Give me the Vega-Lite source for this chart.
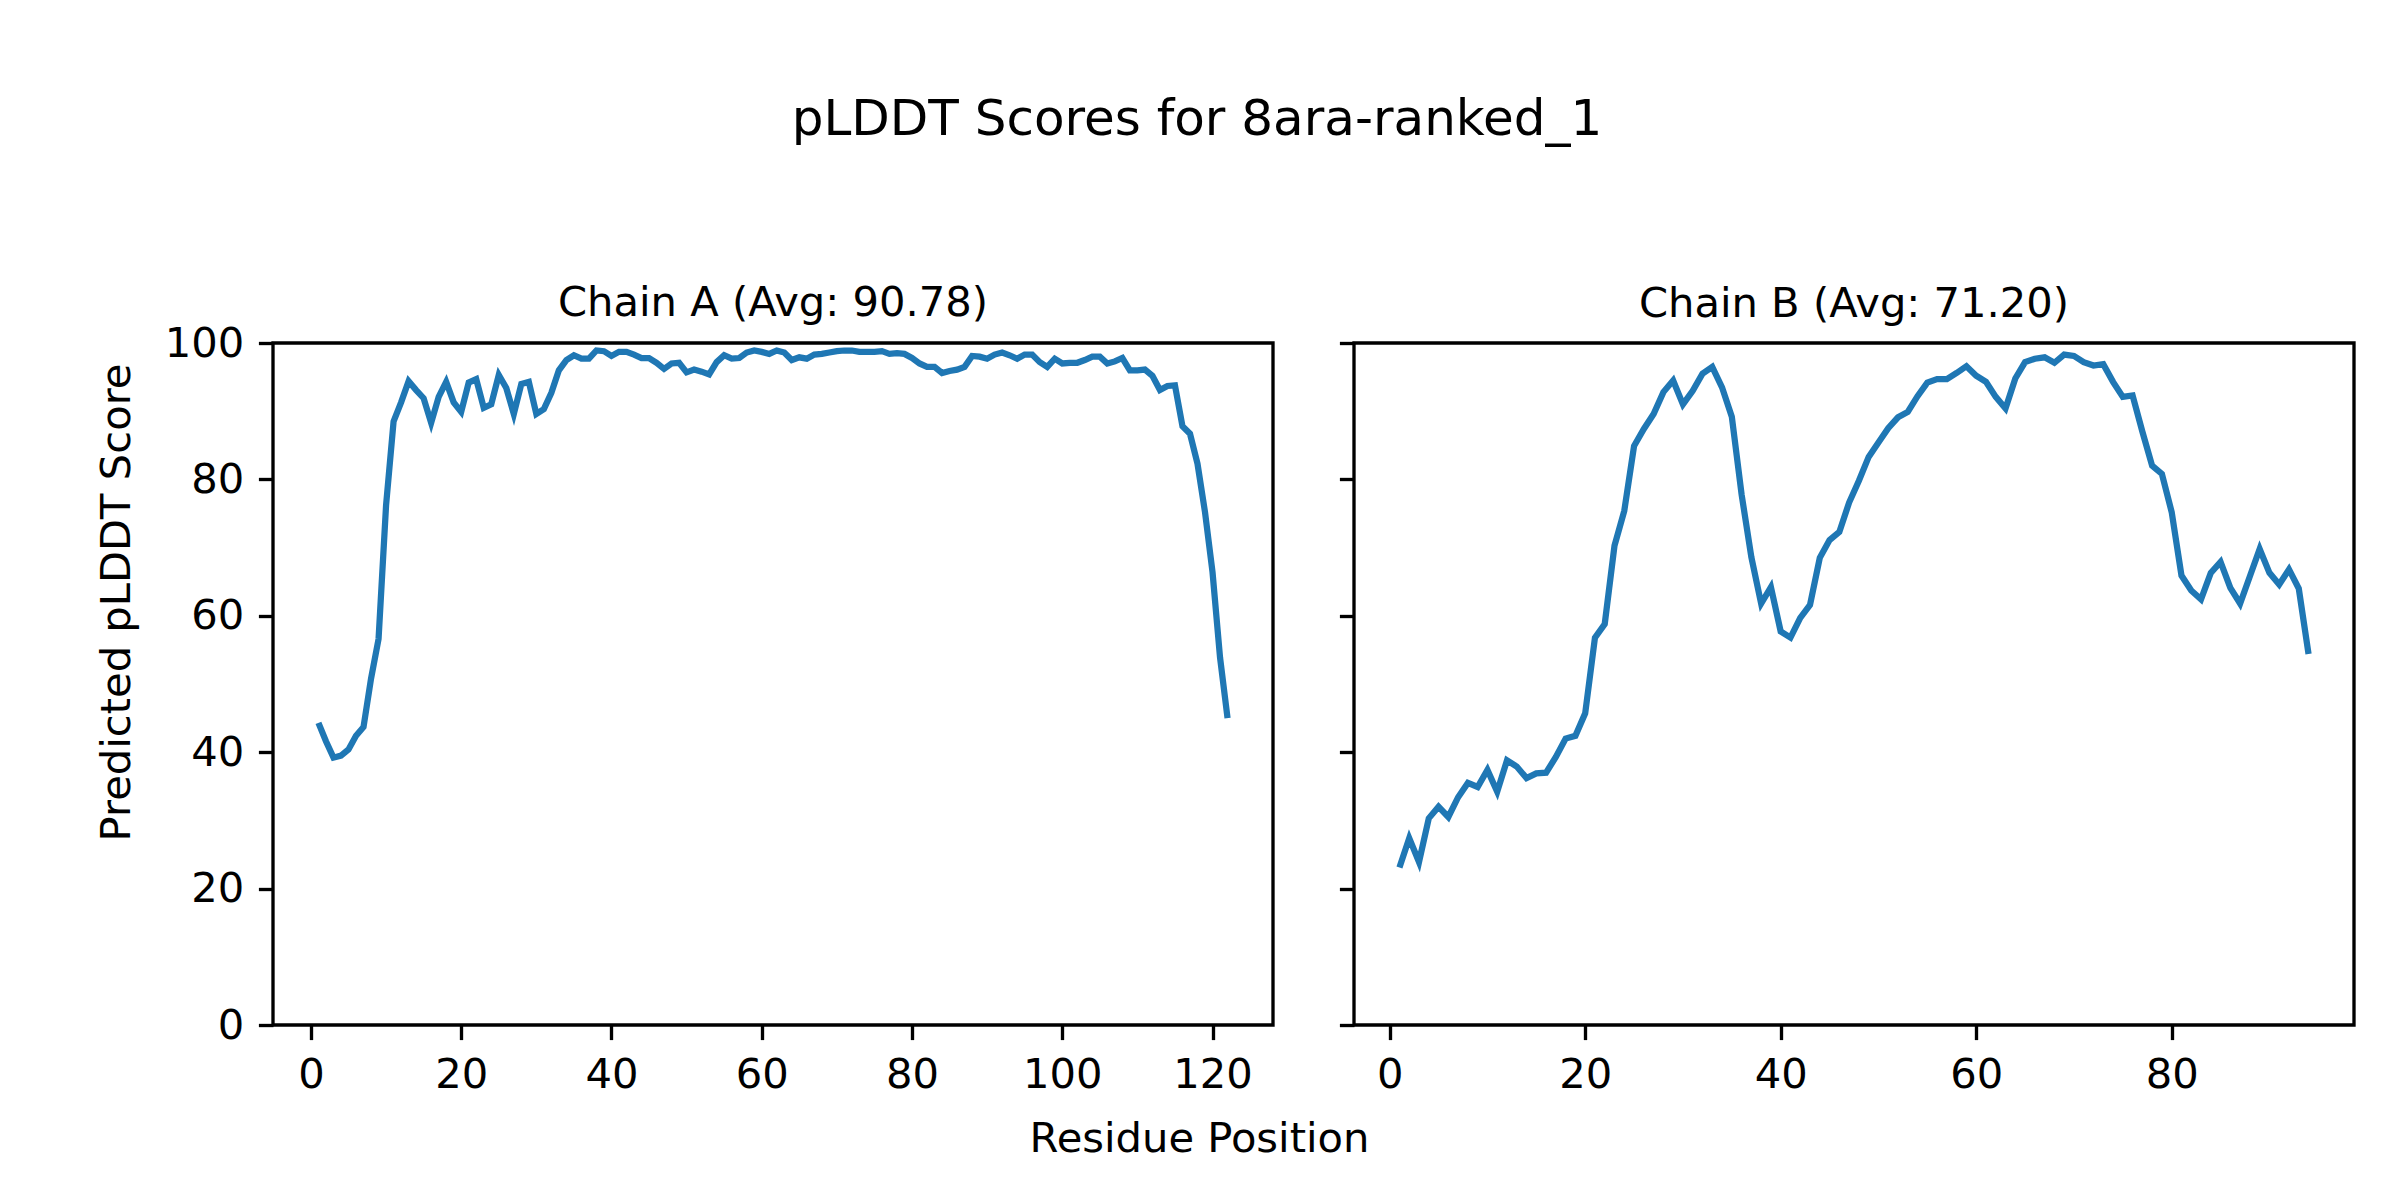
{
  "$schema": "https://vega.github.io/schema/vega-lite/v6.json",
  "background": "white",
  "padding": {"left": 94, "top": 94, "right": 20, "bottom": 20},
  "title": {"text": "pLDDT Scores for 8ara-ranked_1", "fontSize": 50, "font": "DejaVu Sans", "fontWeight": "normal", "color": "black", "anchor": "middle", "frame": "bounds", "baseline": "alphabetic", "offset": 97, "dx": -28},
  "config": {
    "font": "DejaVu Sans",
    "view": {"stroke": "black", "strokeWidth": 3.33},
    "axis": {"grid": false, "domain": false, "tickColor": "black", "tickWidth": 3.33, "tickSize": 14.6, "labelFont": "DejaVu Sans", "labelFontSize": 41.67, "labelColor": "black", "labelPadding": 14.6, "titleFont": "DejaVu Sans", "titleFontSize": 41.67, "titleFontWeight": "normal", "titleColor": "black", "labelFlush": false, "labelOverlap": false}
  },
  "bounds": "flush",
  "spacing": 81,
  "datasets": {
    "A": [
      {"residue": 1, "plddt": 44.3}, {"residue": 2, "plddt": 41.6}, {"residue": 3, "plddt": 39.2}, {"residue": 4, "plddt": 39.5}, {"residue": 5, "plddt": 40.4},
      {"residue": 6, "plddt": 42.4}, {"residue": 7, "plddt": 43.7}, {"residue": 8, "plddt": 50.8}, {"residue": 9, "plddt": 56.6}, {"residue": 10, "plddt": 76.2},
      {"residue": 11, "plddt": 88.5}, {"residue": 12, "plddt": 91.3}, {"residue": 13, "plddt": 94.4}, {"residue": 14, "plddt": 93.1}, {"residue": 15, "plddt": 91.9},
      {"residue": 16, "plddt": 88.3}, {"residue": 17, "plddt": 92.1}, {"residue": 18, "plddt": 94.3}, {"residue": 19, "plddt": 91.3}, {"residue": 20, "plddt": 89.9},
      {"residue": 21, "plddt": 94.2}, {"residue": 22, "plddt": 94.7}, {"residue": 23, "plddt": 90.5}, {"residue": 24, "plddt": 91.0}, {"residue": 25, "plddt": 95.3},
      {"residue": 26, "plddt": 93.4}, {"residue": 27, "plddt": 89.6}, {"residue": 28, "plddt": 94.0}, {"residue": 29, "plddt": 94.3}, {"residue": 30, "plddt": 89.6},
      {"residue": 31, "plddt": 90.3}, {"residue": 32, "plddt": 92.7}, {"residue": 33, "plddt": 96.0}, {"residue": 34, "plddt": 97.5}, {"residue": 35, "plddt": 98.2},
      {"residue": 36, "plddt": 97.7}, {"residue": 37, "plddt": 97.7}, {"residue": 38, "plddt": 98.9}, {"residue": 39, "plddt": 98.8}, {"residue": 40, "plddt": 98.1},
      {"residue": 41, "plddt": 98.7}, {"residue": 42, "plddt": 98.7}, {"residue": 43, "plddt": 98.3}, {"residue": 44, "plddt": 97.8}, {"residue": 45, "plddt": 97.8},
      {"residue": 46, "plddt": 97.1}, {"residue": 47, "plddt": 96.2}, {"residue": 48, "plddt": 97.0}, {"residue": 49, "plddt": 97.1}, {"residue": 50, "plddt": 95.7},
      {"residue": 51, "plddt": 96.1}, {"residue": 52, "plddt": 95.8}, {"residue": 53, "plddt": 95.4}, {"residue": 54, "plddt": 97.2}, {"residue": 55, "plddt": 98.2},
      {"residue": 56, "plddt": 97.7}, {"residue": 57, "plddt": 97.8}, {"residue": 58, "plddt": 98.6}, {"residue": 59, "plddt": 98.9}, {"residue": 60, "plddt": 98.7},
      {"residue": 61, "plddt": 98.4}, {"residue": 62, "plddt": 98.9}, {"residue": 63, "plddt": 98.6}, {"residue": 64, "plddt": 97.5}, {"residue": 65, "plddt": 97.9},
      {"residue": 66, "plddt": 97.7}, {"residue": 67, "plddt": 98.3}, {"residue": 68, "plddt": 98.4}, {"residue": 69, "plddt": 98.6}, {"residue": 70, "plddt": 98.8},
      {"residue": 71, "plddt": 98.9}, {"residue": 72, "plddt": 98.9}, {"residue": 73, "plddt": 98.7}, {"residue": 74, "plddt": 98.7}, {"residue": 75, "plddt": 98.7},
      {"residue": 76, "plddt": 98.8}, {"residue": 77, "plddt": 98.4}, {"residue": 78, "plddt": 98.5}, {"residue": 79, "plddt": 98.4}, {"residue": 80, "plddt": 97.8},
      {"residue": 81, "plddt": 97.0}, {"residue": 82, "plddt": 96.5}, {"residue": 83, "plddt": 96.5}, {"residue": 84, "plddt": 95.6}, {"residue": 85, "plddt": 95.9},
      {"residue": 86, "plddt": 96.1}, {"residue": 87, "plddt": 96.5}, {"residue": 88, "plddt": 98.1}, {"residue": 89, "plddt": 98.0}, {"residue": 90, "plddt": 97.7},
      {"residue": 91, "plddt": 98.3}, {"residue": 92, "plddt": 98.6}, {"residue": 93, "plddt": 98.2}, {"residue": 94, "plddt": 97.7}, {"residue": 95, "plddt": 98.3},
      {"residue": 96, "plddt": 98.3}, {"residue": 97, "plddt": 97.2}, {"residue": 98, "plddt": 96.5}, {"residue": 99, "plddt": 97.7}, {"residue": 100, "plddt": 97.0},
      {"residue": 101, "plddt": 97.1}, {"residue": 102, "plddt": 97.1}, {"residue": 103, "plddt": 97.5}, {"residue": 104, "plddt": 98.0}, {"residue": 105, "plddt": 98.0},
      {"residue": 106, "plddt": 97.0}, {"residue": 107, "plddt": 97.3}, {"residue": 108, "plddt": 97.8}, {"residue": 109, "plddt": 96.0}, {"residue": 110, "plddt": 96.0},
      {"residue": 111, "plddt": 96.1}, {"residue": 112, "plddt": 95.2}, {"residue": 113, "plddt": 93.1}, {"residue": 114, "plddt": 93.7}, {"residue": 115, "plddt": 93.8},
      {"residue": 116, "plddt": 87.8}, {"residue": 117, "plddt": 86.7}, {"residue": 118, "plddt": 82.3}, {"residue": 119, "plddt": 75.2}, {"residue": 120, "plddt": 66.4},
      {"residue": 121, "plddt": 53.9}, {"residue": 122, "plddt": 45.0}
    ],
    "B": [
      {"residue": 1, "plddt": 23.1}, {"residue": 2, "plddt": 27.4}, {"residue": 3, "plddt": 23.9}, {"residue": 4, "plddt": 30.3}, {"residue": 5, "plddt": 32.0},
      {"residue": 6, "plddt": 30.5}, {"residue": 7, "plddt": 33.4}, {"residue": 8, "plddt": 35.5}, {"residue": 9, "plddt": 34.9}, {"residue": 10, "plddt": 37.4},
      {"residue": 11, "plddt": 34.2}, {"residue": 12, "plddt": 38.8}, {"residue": 13, "plddt": 37.9}, {"residue": 14, "plddt": 36.2}, {"residue": 15, "plddt": 36.9},
      {"residue": 16, "plddt": 37.0}, {"residue": 17, "plddt": 39.3}, {"residue": 18, "plddt": 42.0}, {"residue": 19, "plddt": 42.4}, {"residue": 20, "plddt": 45.7},
      {"residue": 21, "plddt": 56.8}, {"residue": 22, "plddt": 58.8}, {"residue": 23, "plddt": 70.3}, {"residue": 24, "plddt": 75.4}, {"residue": 25, "plddt": 84.9},
      {"residue": 26, "plddt": 87.4}, {"residue": 27, "plddt": 89.6}, {"residue": 28, "plddt": 92.8}, {"residue": 29, "plddt": 94.5}, {"residue": 30, "plddt": 91.0},
      {"residue": 31, "plddt": 93.0}, {"residue": 32, "plddt": 95.5}, {"residue": 33, "plddt": 96.5}, {"residue": 34, "plddt": 93.5}, {"residue": 35, "plddt": 89.2},
      {"residue": 36, "plddt": 77.8}, {"residue": 37, "plddt": 68.6}, {"residue": 38, "plddt": 61.8}, {"residue": 39, "plddt": 64.2}, {"residue": 40, "plddt": 57.7},
      {"residue": 41, "plddt": 56.8}, {"residue": 42, "plddt": 59.7}, {"residue": 43, "plddt": 61.6}, {"residue": 44, "plddt": 68.5}, {"residue": 45, "plddt": 71.1},
      {"residue": 46, "plddt": 72.3}, {"residue": 47, "plddt": 76.6}, {"residue": 48, "plddt": 79.8}, {"residue": 49, "plddt": 83.3}, {"residue": 50, "plddt": 85.4},
      {"residue": 51, "plddt": 87.5}, {"residue": 52, "plddt": 89.1}, {"residue": 53, "plddt": 89.9}, {"residue": 54, "plddt": 92.2}, {"residue": 55, "plddt": 94.2},
      {"residue": 56, "plddt": 94.7}, {"residue": 57, "plddt": 94.7}, {"residue": 58, "plddt": 95.6}, {"residue": 59, "plddt": 96.6}, {"residue": 60, "plddt": 95.2},
      {"residue": 61, "plddt": 94.3}, {"residue": 62, "plddt": 92.1}, {"residue": 63, "plddt": 90.4}, {"residue": 64, "plddt": 94.8}, {"residue": 65, "plddt": 97.2},
      {"residue": 66, "plddt": 97.7}, {"residue": 67, "plddt": 97.9}, {"residue": 68, "plddt": 97.1}, {"residue": 69, "plddt": 98.3}, {"residue": 70, "plddt": 98.1},
      {"residue": 71, "plddt": 97.2}, {"residue": 72, "plddt": 96.7}, {"residue": 73, "plddt": 96.9}, {"residue": 74, "plddt": 94.3}, {"residue": 75, "plddt": 92.1},
      {"residue": 76, "plddt": 92.3}, {"residue": 77, "plddt": 87.0}, {"residue": 78, "plddt": 82.0}, {"residue": 79, "plddt": 80.8}, {"residue": 80, "plddt": 75.2},
      {"residue": 81, "plddt": 65.9}, {"residue": 82, "plddt": 63.7}, {"residue": 83, "plddt": 62.4}, {"residue": 84, "plddt": 66.3}, {"residue": 85, "plddt": 67.9},
      {"residue": 86, "plddt": 64.1}, {"residue": 87, "plddt": 61.8}, {"residue": 88, "plddt": 65.8}, {"residue": 89, "plddt": 69.8}, {"residue": 90, "plddt": 66.3},
      {"residue": 91, "plddt": 64.6}, {"residue": 92, "plddt": 66.8}, {"residue": 93, "plddt": 64.0}, {"residue": 94, "plddt": 54.4}
    ]
  },
  "hconcat": [
    {
      "width": 1000,
      "height": 682,
      "data": {"name": "A"},
      "title": {"text": "Chain A (Avg: 90.78)", "fontSize": 41.67, "fontWeight": "normal", "color": "black", "baseline": "alphabetic", "offset": -35, "frame": "group", "anchor": "middle"},
      "mark": {"type": "line", "color": "#1f77b4", "strokeWidth": 6.25},
      "encoding": {
        "x": {"field": "residue", "type": "quantitative", "scale": {"domain": [-5.05, 128.05], "nice": false, "zero": false},
              "axis": {"values": [0, 20, 40, 60, 80, 100, 120], "title": "Residue Position", "titleX": 926, "titleY": 126, "titleBaseline": "alphabetic", "titleAlign": "center"}},
        "y": {"field": "plddt", "type": "quantitative", "scale": {"domain": [0, 100], "nice": false, "zero": false},
              "axis": {"values": [0, 20, 40, 60, 80, 100], "title": "Predicted pLDDT Score", "titleX": -144, "titleY": 259, "titleBaseline": "alphabetic", "titleAngle": 270, "titleAlign": "center"}}
      }
    },
    {
      "width": 1000,
      "height": 682,
      "data": {"name": "B"},
      "title": {"text": "Chain B (Avg: 71.20)", "fontSize": 41.67, "fontWeight": "normal", "color": "black", "baseline": "alphabetic", "offset": -17, "frame": "group", "anchor": "middle"},
      "mark": {"type": "line", "color": "#1f77b4", "strokeWidth": 6.25},
      "encoding": {
        "x": {"field": "residue", "type": "quantitative", "scale": {"domain": [-3.65, 98.65], "nice": false, "zero": false},
              "axis": {"values": [0, 20, 40, 60, 80], "title": null}},
        "y": {"field": "plddt", "type": "quantitative", "scale": {"domain": [0, 100], "nice": false, "zero": false},
              "axis": {"values": [0, 20, 40, 60, 80, 100], "title": null, "labels": false}}
      }
    }
  ]
}
